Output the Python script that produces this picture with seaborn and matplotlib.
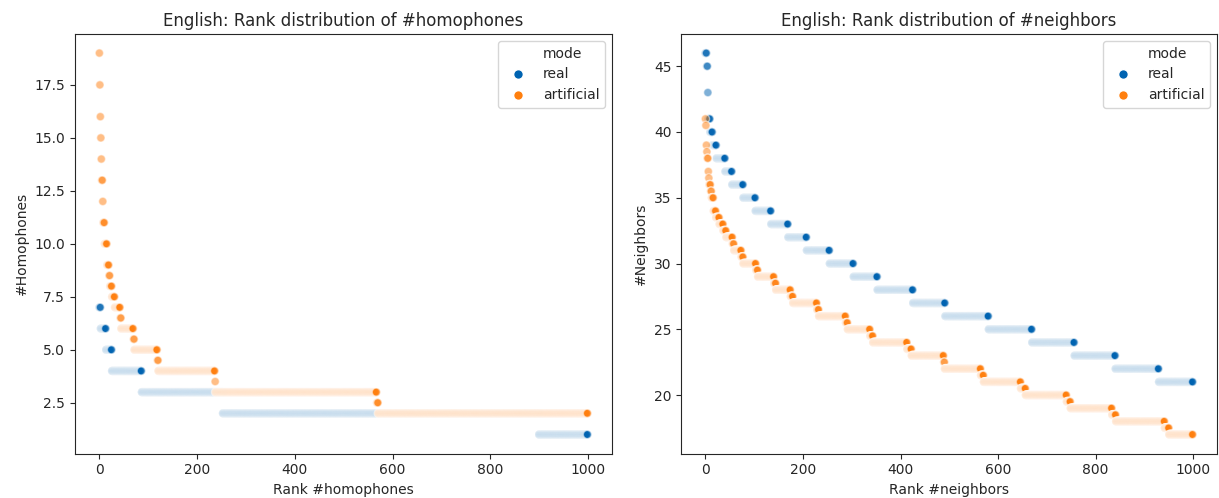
import numpy as np
import pandas as pd
import matplotlib
matplotlib.use("Agg")
import matplotlib.pyplot as plt
from matplotlib.lines import Line2D
import seaborn as sns

# valori: valore e numero di parole con quel valore (in ordine di rango)
hom_real_values = [7, 6, 5, 4, 3, 2, 1]
hom_real_counts = [3, 11, 12, 61, 166, 647, 100]

hom_art_values = [19, 17.5, 16, 15, 14, 13, 12, 11, 10, 9, 8.5, 8, 7.5, 7, 6.5, 6,
                  5.5, 5, 4.5, 4, 3.5, 3, 2.5, 2]
hom_art_counts = [1, 1, 1, 1, 1, 2, 1, 3, 5, 4, 2, 4, 6, 11, 2, 25,
                  2, 47, 2, 116, 1, 330, 3, 429]

nb_real_values = [46, 45, 43, 41, 40, 39, 38, 37, 36, 35, 34, 33, 32, 31, 30, 29,
                  28, 27, 26, 25, 24, 23, 22, 21]
nb_real_counts = [3, 2, 1, 4, 5, 8, 18, 14, 23, 25, 32, 35, 38, 47, 49, 49,
                  73, 66, 89, 89, 87, 84, 89, 70]

nb_art_values = [41, 40.5, 39, 38.5, 38, 37, 36.5, 36, 35.5, 35, 34, 33.5, 33, 32.5,
                 32, 31.5, 31, 30.5, 30, 29.5, 29, 28.5, 28, 27.5, 27, 26.5, 26, 25.5,
                 25, 24.5, 24, 23.5, 23, 22.5, 22, 21.5, 21, 20.5, 20, 19.5, 19, 18.5,
                 18, 17.5, 17]
nb_art_counts = [1, 1, 1, 1, 2, 1, 1, 3, 2, 4, 5, 7, 8, 6,
                 13, 3, 15, 4, 26, 4, 33, 4, 30, 5, 49, 4, 55, 4,
                 46, 6, 70, 9, 66, 2, 74, 6, 76, 10, 84, 8, 85, 8,
                 100, 9, 49]

modes = ["real", "artificial"]
colors = {"real": "#0063b1", "artificial": "#ff7f0e"}


def build_df(real_values, real_counts, art_values, art_counts):
    frames = []
    for mode, vals, cnts in [("real", real_values, real_counts),
                             ("artificial", art_values, art_counts)]:
        v = np.repeat(vals, cnts)
        frames.append(pd.DataFrame({"rank": np.arange(len(v)), "value": v, "mode": mode}))
    return pd.concat(frames, ignore_index=True)


df_hom = build_df(hom_real_values, hom_real_counts, hom_art_values, hom_art_counts)
df_nb = build_df(nb_real_values, nb_real_counts, nb_art_values, nb_art_counts)

sns.set_style("ticks")
plt.rcParams["font.family"] = ["DejaVu Sans"]

fig = plt.figure(figsize=(12.19, 4.98), dpi=100)
ax1 = fig.add_axes([0.0615, 0.0892, 0.4405, 0.8425])
ax2 = fig.add_axes([0.5587, 0.0892, 0.4397, 0.8425])

panels = [
    (ax1, df_hom, "English: Rank distribution of #homophones", "Rank #homophones", "#Homophones"),
    (ax2, df_nb, "English: Rank distribution of #neighbors", "Rank #neighbors", "#Neighbors"),
]

for ax, df, title, xlabel, ylabel in panels:
    sns.scatterplot(data=df, x="rank", y="value", hue="mode", hue_order=modes,
                    palette=colors, alpha=0.5, s=36, linewidth=1.0, edgecolor="w",
                    legend=False, ax=ax)
    ax.set_title(title, fontsize=12)
    ax.set_xlabel(xlabel, fontsize=10)
    ax.set_ylabel(ylabel, fontsize=10)
    ax.set_xticks([0, 200, 400, 600, 800, 1000])
    ax.tick_params(labelsize=10)
    handles = [Line2D([], [], linestyle="none")]
    for m in modes:
        handles.append(Line2D([], [], marker="o", linestyle="none", markersize=7,
                              markerfacecolor=colors[m], markeredgecolor="w"))
    ax.legend(handles, ["mode"] + modes, loc="upper right", fontsize=10)

fig.savefig("out.png", dpi=100)
